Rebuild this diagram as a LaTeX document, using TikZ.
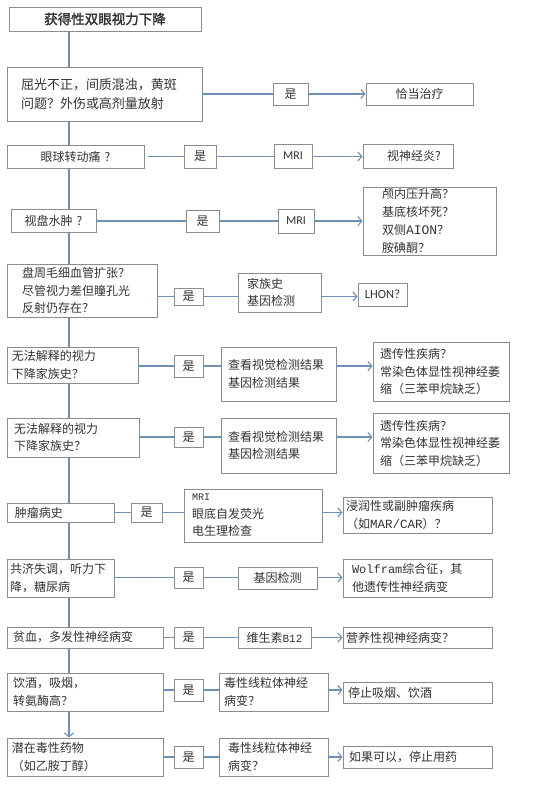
\documentclass[tikz,border=0pt]{standalone}
\usepackage{fontspec}
\setmainfont{Noto Sans CJK SC}[AutoFakeBold=2]
\newfontfamily\latf{Carlito}
\newfontfamily\monof{Liberation Mono}
\usetikzlibrary{arrows.meta}
\definecolor{lnc}{HTML}{6F8FB4}
\definecolor{bdc}{HTML}{8C8C8C}
\definecolor{txc}{HTML}{333333}
\newcommand{\mybox}[8][]{%
  \pgfmathsetmacro\cx{(#3+#5)/2}%
  \pgfmathsetmacro\cy{(#4+#6)/2}%
  \pgfmathsetmacro\bw{#5-#3}%
  \pgfmathsetmacro\bh{#6-#4}%
  \pgfmathsetmacro\tw{#5-#3-2*#7}%
  \node[box, inner xsep=#7pt, minimum width=\bw pt, minimum height=\bh pt, text width=\tw pt, #1] (#2) at (\cx,\cy) {#8};}
\begin{document}
\begin{tikzpicture}[x=1pt,y=-1pt,
  box/.style={draw=bdc, line width=0.9pt, fill=white, text=txc, inner ysep=0pt, align=left,
    font=\fontsize{12}{17.5}\selectfont},
  ctr/.style={align=center},
  ln/.style={draw=lnc, line width=1.1pt},
  arr/.style={ln, -{Straight Barb[length=4pt,width=9pt]}}]
\useasboundingbox[fill=white] (0,0) rectangle (554,801);
\coordinate (sp) at (69,0);
% title
\mybox[ctr, font=\fontsize{13.5}{16}\selectfont\bfseries]{t}{9}{7}{201}{31}{4}{获得性双眼视力下降}
% row 1
\mybox[font=\fontsize{13}{19}\selectfont]{r1}{7}{67}{202}{121}{14}{屈光不正，间质混浊，黄斑\\问题？外伤或高剂量放射}
\mybox[ctr]{y1}{273}{83}{308}{105}{2}{是}
\mybox[ctr]{a1}{366}{83}{473}{105}{4}{恰当治疗}
% row 2
\mybox[ctr]{r2}{7}{145}{144}{168}{4}{眼球转动痛 ?}
\mybox[ctr]{y2}{184}{145}{216}{168}{2}{是}
\mybox[ctr, font=\latf\fontsize{12}{14}\selectfont]{m2}{274}{144}{312}{168}{2}{MRI}
\mybox{a2}{363}{144}{453}{168}{24}{视神经炎?}
% row 3
\mybox[ctr]{r3}{11}{209}{96}{232}{2}{视盘水肿 ?}
\mybox[ctr]{y3}{186}{210}{219}{232}{2}{是}
\mybox[ctr, font=\latf\fontsize{12}{14}\selectfont]{m3}{278}{209}{314}{233}{2}{MRI}
\mybox[font=\fontsize{12}{18}\selectfont]{a3}{363}{187}{496}{255}{19}{颅内压升高？\\基底核坏死？\\双侧{\monof\fontsize{13}{18}\selectfont AION}？\\胺碘酮？}
% row 4
\mybox{r4}{7}{264}{157}{317}{15}{盘周毛细血管扩张？\\尽管视力差但瞳孔光\\反射仍存在？}
\mybox[ctr]{y4}{174}{288}{203}{305}{2}{是}
\mybox{f4}{238}{273}{321}{312}{9}{家族史\\基因检测}
\mybox[ctr, font=\latf\fontsize{12.5}{14}\selectfont]{a4}{358}{283}{407}{306}{2}{LHON?}
% row 5
\mybox{r5}{7}{347}{138}{383}{5}{无法解释的视力\\下降家族史？}
\mybox[ctr]{y5}{174}{355}{203}{377}{2}{是}
\mybox{c5}{221}{347}{336}{401}{7}{查看视觉检测结果\\基因检测结果}
\mybox{a5}{373}{342}{509}{401}{7}{遗传性疾病？\\常染色体显性视神经萎\\缩（三苯甲烷缺乏）}
% row 6
\mybox{r6}{7}{418}{139}{457}{7}{无法解释的视力\\下降家族史？}
\mybox[ctr]{y6}{174}{427}{203}{447}{2}{是}
\mybox{c6}{221}{418}{336}{473}{7}{查看视觉检测结果\\基因检测结果}
\mybox{a6}{373}{413}{509}{473}{7}{遗传性疾病？\\常染色体显性视神经萎\\缩（三苯甲烷缺乏）}
% row 7
\mybox{r7}{7}{503}{114}{522}{8}{肿瘤病史}
\mybox[ctr]{y7}{131}{503}{162}{522}{2}{是}
\mybox{c7}{184}{489}{322}{542}{8}{{\monof\fontsize{10}{17.5}\selectfont MRI}\\眼底自发荧光\\电生理检查}
\mybox{a7}{343}{497}{492}{533}{3}{浸润性或副肿瘤疾病\\（如{\monof\fontsize{12.5}{17.5}\selectfont MAR/CAR}）？}
% row 8
\mybox{r8}{7}{559}{114}{597}{3}{共济失调，听力下\\降，糖尿病}
\mybox[ctr]{y8}{174}{567}{203}{588}{2}{是}
\mybox[ctr]{c8}{238}{567}{317}{589}{2}{基因检测}
\mybox{a8}{343}{559}{492}{597}{9}{{\monof\fontsize{12}{17.5}\selectfont Wolfram}综合征，其\\他遗传性神经病变}
% row 9
\mybox{r9}{7}{627}{163}{648}{6}{贫血，多发性神经病变}
\mybox[ctr]{y9}{174}{627}{203}{648}{2}{是}
\mybox[ctr]{c9}{238}{627}{311}{648}{2}{维生素{\monof\fontsize{11}{14}\selectfont B12}}
\mybox{a9}{343}{627}{492}{648}{3}{营养性视神经病变？}
% row 10
\mybox{r10}{7}{673}{163}{711}{6}{饮酒，吸烟，\\转氨酶高？}
\mybox[ctr]{y10}{174}{679}{203}{701}{2}{是}
\mybox{c10}{219}{673}{328}{711}{5}{毒性线粒体神经\\病变？}
\mybox{a10}{343}{682}{492}{703}{5}{停止吸烟、饮酒}
% row 11
\mybox{r11}{7}{738}{163}{776}{5}{潜在毒性药物\\（如乙胺丁醇）}
\mybox[ctr]{y11}{174}{746}{203}{768}{2}{是}
\mybox{c11}{219}{738}{328}{776}{9}{毒性线粒体神经\\病变？}
\mybox{a11}{343}{746}{492}{768}{6}{如果可以，停止用药}
% spine
\draw[ln] (sp |- t.south) -- (sp |- r1.north);
\draw[ln] (sp |- r1.south) -- (sp |- r2.north);
\draw[ln] (sp |- r2.south) -- (sp |- r3.north);
\draw[ln] (sp |- r3.south) -- (sp |- r4.north);
\draw[ln] (sp |- r4.south) -- (sp |- r5.north);
\draw[ln] (sp |- r5.south) -- (sp |- r6.north);
\draw[ln] (sp |- r6.south) -- (sp |- r7.north);
\draw[ln] (sp |- r7.south) -- (sp |- r8.north);
\draw[ln] (sp |- r8.south) -- (sp |- r9.north);
\draw[ln] (sp |- r9.south) -- (sp |- r10.north);
\draw[arr] (sp |- r10.south) -- (sp |- r11.north);
% row 1
\draw[ln] (y1.west -| r1.east) -- (y1.west);
\draw[arr] (y1.east) -- (y1.east -| a1.west);
% row 2 (small gap after the question box)
\draw[ln, shorten <=4pt] (y2.west -| r2.east) -- (y2.west);
\draw[ln] (y2.east) -- (y2.east -| m2.west);
\draw[arr] (y2.east -| m2.east) -- (y2.east -| a2.west);
% rows with middle box
\foreach \i/\m in {3/m3,4/f4,5/c5,6/c6,7/c7,8/c8,9/c9,10/c10,11/c11}{
  \draw[ln] (y\i.west -| r\i.east) -- (y\i.west);
  \draw[ln] (y\i.east) -- (y\i.east -| \m.west);
  \draw[arr] (y\i.east -| \m.east) -- (y\i.east -| a\i.west);
}
\end{tikzpicture}
\end{document}
